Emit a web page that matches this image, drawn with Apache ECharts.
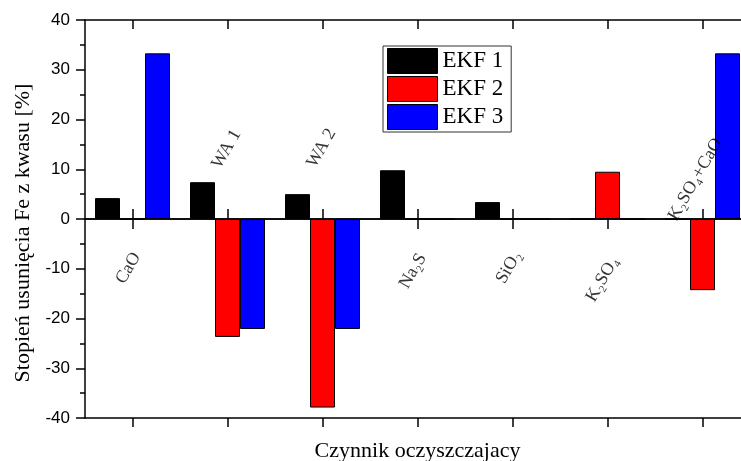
<!DOCTYPE html>
<html>
<head>
<meta charset="utf-8">
<script src="https://cdn.jsdelivr.net/npm/echarts@6/dist/echarts.min.js"></script>
<style>
  html, body { margin: 0; padding: 0; background: #fff; }
  #chart { width: 741px; height: 461px; }
</style>
</head>
<body>
<div id="chart"></div>
<script>
// categories (cleaning agents) and their rotated labels
const categories = ["CaO", "WA 1", "WA 2", "Na2S", "SiO2", "K2SO4", "K2SO4+CaO"];
const catLabels = ["CaO", "WA 1", "WA 2", "Na₂S", "SiO₂", "K₂SO₄", "K₂SO₄+CaO"];

// degree of Fe removal from acid [%]
const ekf1 = [4.2, 7.4, 5.0, 9.8, 3.4, 0, 0];
const ekf2 = [0, -23.7, -37.9, 0, 0, 9.5, -14.3];
const ekf3 = [33.3, -22.1, -22.1, 0, 0, 0, 33.3];

const yTicks = [-40, -30, -20, -10, 0, 10, 20, 30, 40];

// layout of the category labels (value on y axis, x shift in px)
const labelY = [-8.5, 14.4, 14.6, -8.9, -8.5, -10.4, 10.4];
const labelDx = [-8, -2, -2, -9, -7, -10, -14];

const serif = "'Liberation Serif', 'Times New Roman', serif";
const sans = "'Liberation Sans', Arial, sans-serif";

let chart = echarts.init(document.getElementById("chart"));

function catAxis(pos, onZero, tickInside, len, extra) {
  return Object.assign({
    type: "category",
    data: categories,
    position: pos,
    boundaryGap: true,
    axisLine: { show: true, onZero: onZero, onZeroAxisIndex: 0, lineStyle: { color: "#000", width: 1.5 } },
    axisTick: { show: true, alignWithLabel: true, inside: tickInside, length: len, lineStyle: { color: "#000", width: 1.5 } },
    axisLabel: { show: false },
    splitLine: { show: false },
  }, extra || {});
}

function valAxis(pos, tickInside, extra) {
  return Object.assign({
    type: "value",
    position: pos,
    min: yTicks[0],
    max: yTicks[yTicks.length - 1],
    interval: 10,
    axisLine: { show: true, onZero: false, lineStyle: { color: "#000", width: 1.5 } },
    axisTick: { show: true, inside: tickInside, length: 9, lineStyle: { color: "#000", width: 1.5 } },
    minorTick: { show: true, splitNumber: 2, length: 5, lineStyle: { color: "#000", width: 1.5 } },
    splitLine: { show: false },
    axisLabel: { show: false },
  }, extra || {});
}

function barSeries(name, data, color) {
  return {
    name: name,
    type: "bar",
    data: data,
    barWidth: 25,
    barGap: "0%",
    xAxisIndex: 0,
    yAxisIndex: 0,
    itemStyle: { color: color, borderColor: "#000", borderWidth: 1 },
    emphasis: { disabled: true },
  };
}

let option = {
  animation: false,
  grid: { left: 85, top: 20, width: 665, height: 398, containLabel: false, outerBoundsMode: "none" },
  legend: {
    data: ["EKF 1", "EKF 2", "EKF 3"],
    orient: "vertical",
    left: 383,
    top: 46,
    padding: [2, 8, 2, 4],
    itemGap: 2,
    itemWidth: 50,
    itemHeight: 25,
    icon: "rect",
    borderColor: "#333",
    borderWidth: 1,
    itemStyle: { borderColor: "#000", borderWidth: 1 },
    textStyle: { fontFamily: serif, fontSize: 23, color: "#000" },
  },
  xAxis: [
    catAxis("bottom", false, false, 9, {
      name: "Czynnik oczyszczajacy",
      nameLocation: "middle",
      nameGap: 22,
      nameTextStyle: { fontFamily: serif, fontSize: 22, color: "#000" },
    }),
    catAxis("top", false, true, 9),
    catAxis("bottom", true, false, 10),
    catAxis("top", true, false, 10),
  ],
  yAxis: [
    valAxis("left", false, {
      axisLabel: { show: true, margin: 15, fontFamily: sans, fontSize: 17, color: "#000" },
      name: "Stopień usunięcia Fe z kwasu [%]",
      nameLocation: "middle",
      nameGap: 50,
      nameTextStyle: { fontFamily: serif, fontSize: 22, color: "#000", padding: [0, 28, 0, 0] },
    }),
    valAxis("right", true),
  ],
  series: [
    barSeries("EKF 1", ekf1, "#000000"),
    barSeries("EKF 2", ekf2, "#ff0000"),
    barSeries("EKF 3", ekf3, "#0000ff"),
    {
      type: "scatter",
      xAxisIndex: 0,
      yAxisIndex: 0,
      symbolSize: 0,
      silent: true,
      data: categories.map((c, i) => ({
        value: [c, labelY[i]],
        label: { offset: [labelDx[i], 0] },
      })),
      label: {
        show: true,
        position: "inside",
        rotate: 60,
        align: "center",
        verticalAlign: "middle",
        fontFamily: serif,
        fontSize: 18,
        color: "#000",
        formatter: (p) => catLabels[p.dataIndex],
      },
    },
  ],
};
chart.setOption(option);
</script>
</body>
</html>
